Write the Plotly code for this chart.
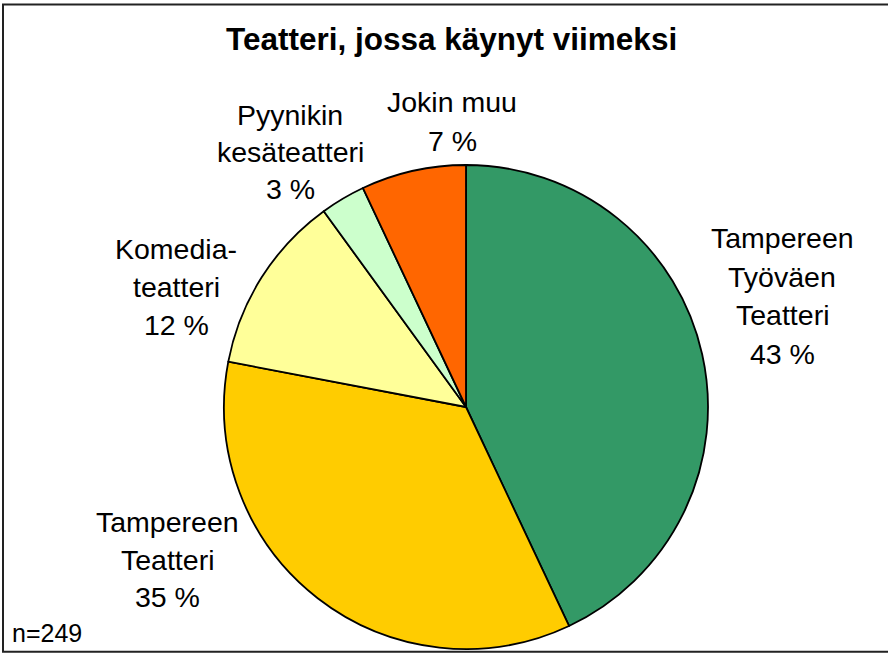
import plotly.graph_objects as go

categories = ["Tampereen Työväen Teatteri", "Tampereen Teatteri", "Komedia-teatteri",
              "Pyynikin kesäteatteri", "Jokin muu"]
values = [43, 35, 12, 3, 7]
label_lines = [["Tampereen", "Työväen", "Teatteri"],
               ["Tampereen", "Teatteri"],
               ["Komedia-", "teatteri"],
               ["Pyynikin", "kesäteatteri"],
               ["Jokin muu"]]
title_text = "Teatteri, jossa käynyt viimeksi"
note_text = "n=249"

colors = ["#339966", "#FFCC00", "#FFFF99", "#CCFFCC", "#FF6600"]

W, H = 888, 653
FONT = "Liberation Sans, Arial, sans-serif"

# pie geometry (pixels)
cx, cy, r = 466, 407, 242

fig = go.Figure(go.Pie(
    labels=categories, values=values, sort=False, direction="clockwise", rotation=0,
    marker=dict(colors=colors, line=dict(color="#000000", width=1.8)),
    textinfo="none", hoverinfo="label+percent", showlegend=False,
    domain=dict(x=[(cx - r) / W, (cx + r) / W], y=[1 - (cy + r) / H, 1 - (cy - r) / H]),
))

# label block placement: center x, first baseline y, line step (pixels)
label_pos = [(782, 249, 38.5), (167, 533, 37.5), (176, 260, 38), (290, 126, 37), (452, 113, 39)]

LS = 28.5
anns = []
for lines, v, (lx, by, step) in zip(label_lines, values, label_pos):
    all_lines = lines + [f"{v} %"]
    for i, t in enumerate(all_lines):
        yb = by + i * step
        anns.append(dict(text=t, x=lx / W, y=1 - (yb - 0.37 * LS) / H, xref="paper", yref="paper",
                         xanchor="center", yanchor="middle", showarrow=False,
                         font=dict(family=FONT, size=LS, color="#000000")))

anns.append(dict(text=f"<b>{title_text}</b>", x=451 / W, y=1 - (50 - 11.5) / H, xref="paper", yref="paper",
                 xanchor="center", yanchor="middle", showarrow=False,
                 font=dict(family=FONT, size=31.5, color="#000000")))
anns.append(dict(text=note_text, x=10 / W, y=1 - (642 - 9) / H, xref="paper", yref="paper",
                 xanchor="left", yanchor="middle", showarrow=False,
                 font=dict(family=FONT, size=25, color="#000000")))

fig.update_layout(
    width=W, height=H, margin=dict(l=0, r=0, t=0, b=0),
    paper_bgcolor="#FFFFFF", plot_bgcolor="#FFFFFF",
    annotations=anns,
    shapes=[dict(type="rect", xref="paper", yref="paper",
                 x0=3 / W, x1=1.02, y0=1.2 / H, y1=1 - 4.5 / H,
                 line=dict(color="#222222", width=2), fillcolor="rgba(0,0,0,0)", layer="above")],
)

fig.write_html("out.html", config={"displayModeBar": False},
               post_script="document.body.style.margin='0';document.body.style.overflow='hidden';")
